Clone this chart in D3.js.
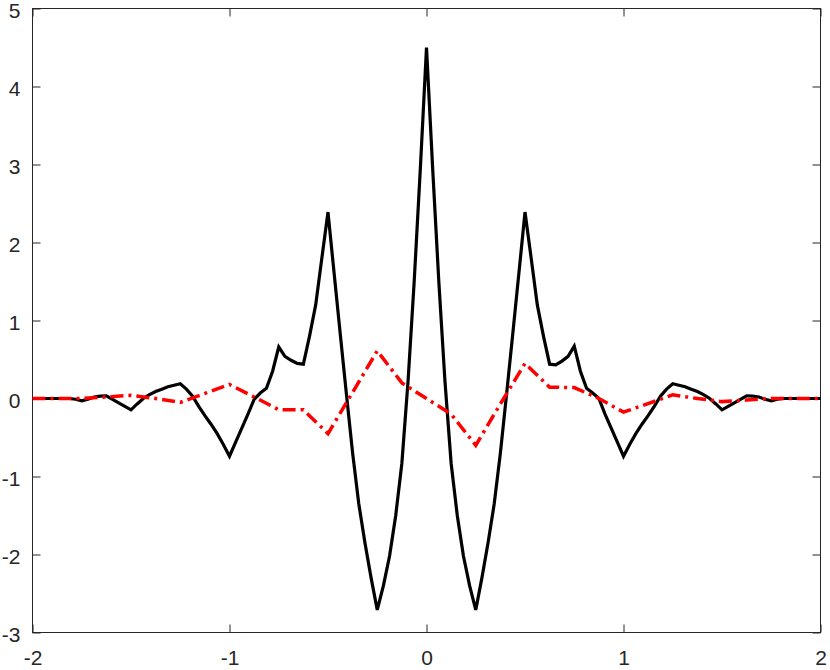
<!DOCTYPE html>
<html>
<head>
<meta charset="utf-8">
<script src="https://cdn.jsdelivr.net/npm/d3@7"></script>
<style>
	body { margin: 0; background: #fff; }
	svg { display: block; }
	.axis text { font-family: "Liberation Sans", Arial, Helvetica, sans-serif; font-size: 21px; fill: #262626; }
	.axis line { stroke: #262626; stroke-width: 1; }
</style>
</head>
<body>
<div id="vis"></div>
<script>
// DATA
// black curve, sampled every 1/32 from -2 to 2
let blackStep = 1 / 32;
let blackY = [
	0, 0, 0, 0, 0, 0, 0, -0.01, -0.03, -0.01, 0.02, 0.03, 0.035, -0.01, -0.055, -0.1,
	-0.145, -0.07, 0.0, 0.05, 0.09, 0.12, 0.15, 0.17, 0.19, 0.12, 0.03, -0.1, -0.22, -0.33, -0.45, -0.59,
	-0.74, -0.56, -0.38, -0.2, -0.01, 0.07, 0.13, 0.35, 0.66, 0.54, 0.49, 0.45, 0.44, 0.8, 1.2, 1.8,
	2.39, 1.6, 0.82, 0.05, -0.7, -1.35, -1.85, -2.3, -2.71, -2.4, -2.02, -1.5, -0.83, 0.22, 1.5, 2.95,
	4.5,
	2.95, 1.5, 0.22, -0.83, -1.5, -2.02, -2.4, -2.71, -2.3, -1.85, -1.35, -0.7, 0.05, 0.82, 1.6, 2.39,
	1.8, 1.2, 0.8, 0.44, 0.43, 0.48, 0.54, 0.67, 0.35, 0.13, 0.07, 0.0, -0.2, -0.38, -0.56, -0.74,
	-0.59, -0.45, -0.33, -0.22, -0.1, 0.03, 0.12, 0.19, 0.17, 0.15, 0.12, 0.09, 0.05, 0.0, -0.07, -0.145,
	-0.1, -0.055, -0.01, 0.035, 0.03, 0.02, -0.01, -0.03, -0.01, 0, 0, 0, 0, 0, 0, 0
];

// red dash-dot curve, sampled every 1/8
let redX = [
	-2, -1.875, -1.75, -1.625, -1.5, -1.375, -1.25, -1.125, -1, -0.875, -0.75, -0.625, -0.5, -0.375, -0.25, -0.125,
	0, 0.125, 0.25, 0.375, 0.5, 0.625, 0.75, 0.875, 1, 1.125, 1.25, 1.375, 1.5, 1.625, 1.75, 1.875, 2
];
let redY = [
	0, 0, 0, 0.02, 0.04, 0.0, -0.05, 0.065, 0.18, 0.02, -0.145, -0.145, -0.45, 0.08, 0.61, 0.2,
	0, -0.2, -0.6, -0.07, 0.45, 0.145, 0.14, 0.0, -0.175, -0.065, 0.047, 0.0, -0.04, -0.02, 0, 0, 0
];

let xTicks = [-2, -1, 0, 1, 2];
let yTicks = [-3, -2, -1, 0, 1, 2, 3, 4, 5];

// PARAMETERS
let width = 830,
	height = 670,
	margin = { top: 8, right: 9, bottom: 38, left: 33 },
	tickLen = 8;

let blackX = blackY.map((v, i) => -2 + i * blackStep);
let blackData = blackY.map((v, i) => [blackX[i], v]);
let redData = redY.map((v, i) => [redX[i], v]);

// SCALES
let x = d3.scaleLinear().domain([-2, 2]).range([margin.left - 0.5, width - margin.right - 0.5]),
	y = d3.scaleLinear().domain([-3, 5]).range([height - margin.bottom + 0.5, margin.top + 0.5]);

let svg = d3.select('#vis')
	.append('svg')
	.attr('width', width)
	.attr('height', height);

// AXES (ticks inside, mirrored on all four sides)
let fmt = d => d3.format('d')(d).replace('−', '-');

svg.append('g')
	.attr('class', 'axis')
	.attr('transform', `translate(0, ${y(-3)})`)
	.call(d3.axisBottom(x).tickValues(xTicks).tickSizeInner(-tickLen).tickSizeOuter(0).tickPadding(18).tickFormat(fmt))
	.call(g => g.select('.domain').remove());

svg.append('g')
	.attr('class', 'axis')
	.attr('transform', `translate(0, ${y(5)})`)
	.call(d3.axisTop(x).tickValues(xTicks).tickSizeInner(-tickLen).tickSizeOuter(0).tickFormat(''))
	.call(g => g.select('.domain').remove());

svg.append('g')
	.attr('class', 'axis')
	.attr('transform', `translate(${x(-2)}, 0)`)
	.call(d3.axisLeft(y).tickValues(yTicks).tickSizeInner(-tickLen).tickSizeOuter(0).tickPadding(12).tickFormat(fmt))
	.call(g => g.select('.domain').remove())
	.call(g => g.selectAll('text').attr('dy', '0.45em'));

svg.append('g')
	.attr('class', 'axis')
	.attr('transform', `translate(${x(2)}, 0)`)
	.call(d3.axisRight(y).tickValues(yTicks).tickSizeInner(-tickLen).tickSizeOuter(0).tickFormat(''))
	.call(g => g.select('.domain').remove());

// BOX
svg.append('rect')
	.attr('x', x(-2))
	.attr('y', y(5))
	.attr('width', x(2) - x(-2))
	.attr('height', y(-3) - y(5))
	.attr('fill', 'none')
	.attr('stroke', '#262626')
	.attr('stroke-width', 1);

// LINES
let line = d3.line().x(d => x(d[0])).y(d => y(d[1]));

svg.append('path')
	.datum(blackData)
	.attr('d', line)
	.attr('fill', 'none')
	.attr('stroke', '#000')
	.attr('stroke-width', 3.2);

svg.append('path')
	.datum(redData)
	.attr('d', line)
	.attr('fill', 'none')
	.attr('stroke', '#ff0000')
	.attr('stroke-width', 3.5)
	.attr('stroke-dasharray', '13,5,3,5');
</script>
</body>
</html>
